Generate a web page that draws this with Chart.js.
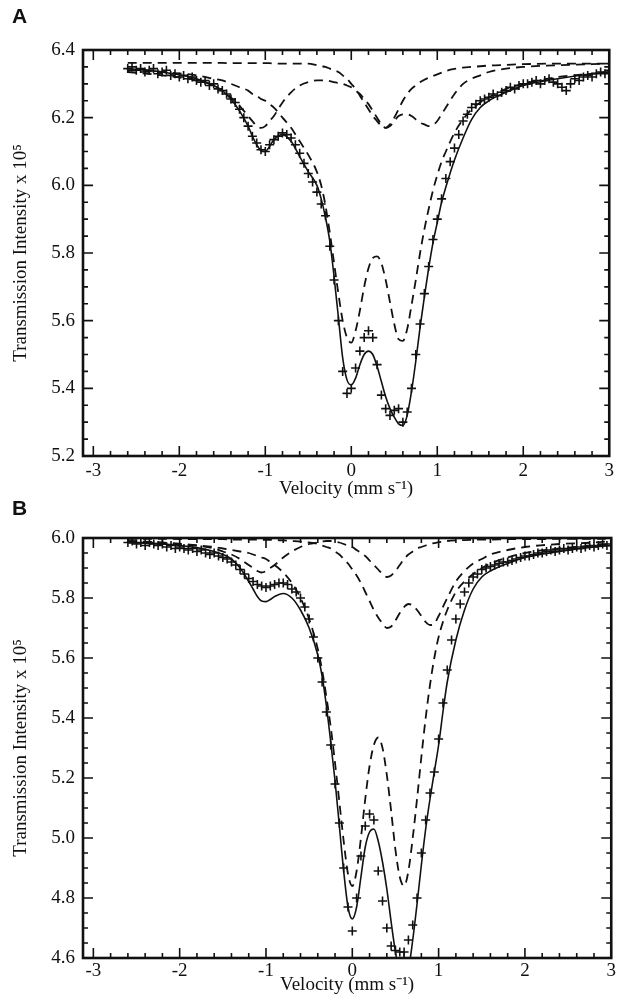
<!DOCTYPE html>
<html>
<head>
<meta charset="utf-8">
<script src="https://cdn.jsdelivr.net/npm/chart.js@4.4.1/dist/chart.umd.min.js"></script>
<style>
  body { margin: 0; background: #fff; width: 618px; height: 996px; position: relative; overflow: hidden; }
  canvas { position: absolute; left: 0; }
  .panel { position: absolute; left: 12px; font: bold 21px "Liberation Sans", Arial, sans-serif; color: #111; z-index: 2; }
</style>
</head>
<body>
<canvas id="chartA" width="618" height="500" style="top:0"></canvas>
<canvas id="chartB" width="618" height="496" style="top:500px"></canvas>
<div class="panel" style="top:4px">A</div>
<div class="panel" style="top:496px">B</div>

<script>
// ── Data ────────────────────────────────────

// measured channels (mm/s)
const velocity = [
  -2.60, -2.55, -2.50, -2.45, -2.40, -2.35, -2.30, -2.25, -2.20, -2.15, -2.10, -2.05, -2.00,
  -1.95, -1.90, -1.85, -1.80, -1.75, -1.70, -1.65, -1.60, -1.55, -1.50,
  -1.45, -1.40, -1.35, -1.30, -1.25, -1.20, -1.15, -1.10, -1.05, -1.00,
  -0.95, -0.90, -0.85, -0.80, -0.75, -0.70, -0.65, -0.60, -0.55, -0.50,
  -0.45, -0.40, -0.35, -0.30, -0.25, -0.20, -0.15, -0.10, -0.05, 0.00,
  0.05, 0.10, 0.15, 0.20, 0.25, 0.30, 0.35, 0.40, 0.45, 0.50,
  0.55, 0.60, 0.65, 0.70, 0.75, 0.80, 0.85, 0.90, 0.95, 1.00,
  1.05, 1.10, 1.15, 1.20, 1.25, 1.30, 1.35, 1.40, 1.45, 1.50,
  1.55, 1.60, 1.65, 1.70, 1.75, 1.80, 1.85, 1.90, 1.95, 2.00,
  2.05, 2.10, 2.15, 2.20, 2.25, 2.30, 2.35, 2.40, 2.45, 2.50,
  2.55, 2.60, 2.65, 2.70, 2.75, 2.80, 2.85, 2.90, 2.95, 3.00
];

const pointsA = [
  6.345, 6.35, 6.34, 6.345, 6.335, 6.34, 6.345, 6.33, 6.335, 6.34, 6.325, 6.33, 6.32,
  6.325, 6.315, 6.32, 6.31, 6.305, 6.31, 6.295, 6.30, 6.285, 6.28,
  6.27, 6.255, 6.245, 6.225, 6.20, 6.175, 6.145, 6.125, 6.105, 6.10,
  6.12, 6.135, 6.145, 6.155, 6.15, 6.14, 6.12, 6.095, 6.065, 6.035,
  6.01, 5.98, 5.945, 5.91, 5.82, 5.72, 5.60, 5.45, 5.385, 5.40,
  5.46, 5.51, 5.55, 5.57, 5.55, 5.47, 5.38, 5.34, 5.32, 5.335,
  5.34, 5.30, 5.33, 5.40, 5.50, 5.59, 5.68, 5.76, 5.84, 5.90,
  5.96, 6.02, 6.07, 6.11, 6.15, 6.19, 6.21, 6.23, 6.24, 6.25,
  6.255, 6.26, 6.27, 6.265, 6.275, 6.28, 6.29, 6.285, 6.295, 6.30,
  6.30, 6.305, 6.31, 6.30, 6.31, 6.315, 6.305, 6.30, 6.29, 6.28,
  6.30, 6.315, 6.31, 6.32, 6.325, 6.32, 6.33, 6.335, 6.33, 6.34
];

const pointsB = [
  5.985, 5.99, 5.98, 5.985, 5.975, 5.985, 5.98, 5.975, 5.98, 5.97, 5.975, 5.965, 5.97,
  5.965, 5.96, 5.965, 5.955, 5.96, 5.95, 5.945, 5.95, 5.94, 5.935,
  5.93, 5.92, 5.91, 5.895, 5.88, 5.865, 5.855, 5.845, 5.84, 5.835,
  5.84, 5.845, 5.85, 5.85, 5.845, 5.83, 5.82, 5.80, 5.77, 5.73,
  5.67, 5.60, 5.52, 5.42, 5.31, 5.18, 5.05, 4.90, 4.77, 4.69,
  4.80, 4.94, 5.04, 5.08, 5.06, 4.89, 4.79, 4.70, 4.64, 4.625,
  4.62, 4.62, 4.66, 4.71, 4.80, 4.95, 5.06, 5.15, 5.22, 5.33,
  5.45, 5.56, 5.66, 5.73, 5.78, 5.82, 5.85, 5.87, 5.88, 5.895,
  5.90, 5.905, 5.91, 5.915, 5.92, 5.92, 5.925, 5.93, 5.935, 5.94,
  5.94, 5.945, 5.95, 5.95, 5.955, 5.96, 5.955, 5.96, 5.965, 5.96,
  5.965, 5.97, 5.965, 5.97, 5.975, 5.97, 5.975, 5.98, 5.975, 5.98
];

// velocities where the fitted curves were read
const curveVel = [
  -2.6, -2.2, -1.8, -1.6, -1.5, -1.4, -1.3, -1.2, -1.15, -1.1,
  -1.05, -1.0, -0.95, -0.9, -0.8, -0.7, -0.6, -0.5, -0.4, -0.35,
  -0.3, -0.25, -0.2, -0.15, -0.1, -0.05, 0.0, 0.05, 0.1, 0.15,
  0.2, 0.25, 0.3, 0.35, 0.4, 0.45, 0.5, 0.55, 0.6, 0.65,
  0.7, 0.75, 0.8, 0.85, 0.9, 0.95, 1.0, 1.05, 1.1, 1.2,
  1.3, 1.4, 1.5, 1.6, 1.8, 2.0, 2.4, 2.8, 3.0
];

const fitA = [
  6.345, 6.335, 6.315, 6.295, 6.28, 6.255, 6.22, 6.175, 6.145, 6.12,
  6.103, 6.10, 6.115, 6.135, 6.15, 6.13, 6.085, 6.04, 6.0, 5.96,
  5.905, 5.835, 5.73, 5.61, 5.49, 5.425, 5.41, 5.43, 5.47, 5.50,
  5.51, 5.50, 5.465, 5.42, 5.375, 5.34, 5.315, 5.295, 5.29, 5.32,
  5.39, 5.48, 5.58, 5.67, 5.755, 5.83, 5.89, 5.95, 5.995, 6.075,
  6.14, 6.195, 6.23, 6.25, 6.275, 6.295, 6.315, 6.33, 6.335
];

const mainA = [
  6.34, 6.335, 6.325, 6.315, 6.31, 6.30, 6.29, 6.28, 6.27, 6.265,
  6.255, 6.25, 6.24, 6.23, 6.20, 6.17, 6.13, 6.09, 6.04, 6.0,
  5.94, 5.86, 5.77, 5.68, 5.60, 5.55, 5.535, 5.57, 5.63, 5.70,
  5.755, 5.785, 5.79, 5.77, 5.72, 5.655, 5.59, 5.545, 5.54, 5.575,
  5.645, 5.72, 5.80, 5.87, 5.93, 5.985, 6.03, 6.07, 6.10, 6.155,
  6.195, 6.225, 6.245, 6.26, 6.285, 6.30, 6.32, 6.33, 6.335
];

const outerA = [
  6.335, 6.325, 6.31, 6.295, 6.28, 6.26, 6.235, 6.205, 6.19, 6.175,
  6.17, 6.175, 6.19, 6.205, 6.245, 6.275, 6.295, 6.305, 6.31, 6.31,
  6.31, 6.308, 6.305, 6.302, 6.30, 6.295, 6.29, 6.28, 6.27, 6.255,
  6.24, 6.22, 6.20, 6.18, 6.17, 6.18, 6.20, 6.225, 6.25, 6.27,
  6.285, 6.295, 6.305, 6.312, 6.318, 6.323, 6.328, 6.333, 6.338, 6.344,
  6.348, 6.35, 6.352, 6.354, 6.356, 6.358, 6.36, 6.36, 6.36
];

const innerA = [
  6.362, 6.362, 6.362, 6.362, 6.362, 6.361, 6.361, 6.361, 6.361, 6.361,
  6.361, 6.361, 6.361, 6.36, 6.36, 6.36, 6.36, 6.36, 6.355, 6.352,
  6.35, 6.345, 6.34, 6.335, 6.325, 6.315, 6.30, 6.285, 6.265, 6.245,
  6.225, 6.205, 6.19, 6.175, 6.17, 6.175, 6.19, 6.205, 6.21, 6.21,
  6.205, 6.195, 6.185, 6.18, 6.175, 6.178, 6.19, 6.21, 6.23, 6.27,
  6.30, 6.315, 6.325, 6.335, 6.345, 6.35, 6.355, 6.358, 6.36
];

const fitB = [
  5.985, 5.98, 5.968, 5.955, 5.945, 5.93, 5.90, 5.855, 5.83, 5.805,
  5.79, 5.788, 5.795, 5.805, 5.815, 5.80, 5.76, 5.70, 5.61, 5.54,
  5.44, 5.32, 5.19, 5.04, 4.89, 4.77, 4.73, 4.77, 4.87, 4.97,
  5.02, 5.03, 4.99, 4.92, 4.83, 4.72, 4.62, 4.55, 4.52, 4.56,
  4.66, 4.78, 4.91, 5.03, 5.13, 5.22, 5.31, 5.42, 5.52, 5.66,
  5.76, 5.83, 5.87, 5.89, 5.915, 5.935, 5.955, 5.97, 5.975
];

const mainB = [
  5.985, 5.98, 5.975, 5.97, 5.965, 5.96, 5.955, 5.95, 5.945, 5.94,
  5.935, 5.93, 5.92, 5.91, 5.885, 5.85, 5.80, 5.73, 5.63, 5.56,
  5.47, 5.37, 5.25, 5.12, 4.99, 4.88, 4.84, 4.89, 5.0, 5.13,
  5.24, 5.31, 5.335, 5.30, 5.21, 5.09, 4.96, 4.87, 4.84, 4.89,
  5.0, 5.13, 5.27, 5.40, 5.51, 5.60, 5.67, 5.72, 5.76, 5.82,
  5.855, 5.88, 5.90, 5.915, 5.935, 5.95, 5.965, 5.975, 5.98
];

const outerB = [
  5.99, 5.985, 5.975, 5.965, 5.955, 5.945, 5.93, 5.91, 5.90, 5.89,
  5.885, 5.89, 5.90, 5.91, 5.935, 5.955, 5.97, 5.98, 5.985, 5.988,
  5.99, 5.99, 5.988, 5.985, 5.98, 5.975, 5.97, 5.96, 5.95, 5.94,
  5.925, 5.91, 5.895, 5.88, 5.87, 5.875, 5.89, 5.91, 5.93, 5.945,
  5.955, 5.965, 5.97, 5.975, 5.98, 5.983, 5.986, 5.988, 5.99, 5.992,
  5.993, 5.994, 5.995, 5.995, 5.996, 5.996, 5.997, 5.997, 5.998
];

const innerB = [
  5.997, 5.997, 5.996, 5.996, 5.996, 5.995, 5.995, 5.995, 5.995, 5.995,
  5.994, 5.994, 5.994, 5.993, 5.992, 5.99, 5.988, 5.985, 5.98, 5.975,
  5.97, 5.965, 5.955, 5.945, 5.93, 5.915, 5.895, 5.875, 5.85, 5.82,
  5.79, 5.76, 5.735, 5.715, 5.70, 5.705, 5.725, 5.75, 5.77, 5.78,
  5.775, 5.76, 5.74, 5.72, 5.71, 5.715, 5.74, 5.77, 5.80, 5.855,
  5.89, 5.915, 5.93, 5.945, 5.96, 5.97, 5.98, 5.985, 5.99
];

// tick labels
const xTicks = [-3, -2, -1, 0, 1, 2, 3];
const yTicksA = [5.2, 5.4, 5.6, 5.8, 6.0, 6.2, 6.4];
const yTicksB = [4.6, 4.8, 5.0, 5.2, 5.4, 5.6, 5.8, 6.0];

// ── Helpers ─────────────────────────────────

const INK = '#111';
const SERIF = '"Liberation Serif", "Times New Roman", serif';

function pairs(xs, ys) {
    return xs.map((x, i) => ({ x: x, y: ys[i] }));
}

function steps(from, to, step) {
    const out = [];
    const n = Math.round((to - from) / step);
    for (let i = 0; i <= n; i++) out.push(+(from + i * step).toFixed(3));
    return out;
}

// inward ticks on all four sides plus the heavy frame
const frameTicks = {
    id: 'frameTicks',
    afterDraw(chart, args, opts) {
        const { ctx, chartArea: a, scales: { x, y } } = chart;
        const isMajor = (v, step) => Math.abs(v / step - Math.round(v / step)) < 1e-6;
        ctx.save();
        ctx.strokeStyle = INK;
        ctx.lineWidth = 1.6;
        ctx.beginPath();
        steps(-3, 3, 0.2).forEach(v => {
            const px = x.getPixelForValue(v);
            const len = isMajor(v, 1) ? 10 : 5;
            ctx.moveTo(px, a.bottom); ctx.lineTo(px, a.bottom - len);
            ctx.moveTo(px, a.top); ctx.lineTo(px, a.top + len);
        });
        steps(opts.yMin, opts.yMax, 0.05).forEach(v => {
            const py = y.getPixelForValue(v);
            const len = isMajor(v, 0.2) ? 10 : 5;
            ctx.moveTo(a.left, py); ctx.lineTo(a.left + len, py);
            ctx.moveTo(a.right, py); ctx.lineTo(a.right - len, py);
        });
        ctx.stroke();
        ctx.lineWidth = 2.6;
        ctx.strokeRect(a.left, a.top, a.width, a.height);
        ctx.restore();
    }
};

// ── Spectrum Chart ──────────────────────────

function initSpectrum(id, cfg) {
    const dashed = { borderColor: INK, borderWidth: 1.8, borderDash: [9, 6], pointRadius: 0, showLine: true, cubicInterpolationMode: 'monotone' };

    new Chart(document.getElementById(id), {
        type: 'scatter',
        data: {
            datasets: [
                { label: 'Data', data: pairs(velocity, cfg.points), pointStyle: 'cross', pointRadius: 4.5, borderColor: INK, borderWidth: 1.6 },
                { label: 'Fit', data: pairs(curveVel, cfg.fit), showLine: true, pointRadius: 0, borderColor: INK, borderWidth: 1.6, cubicInterpolationMode: 'monotone' },
                Object.assign({ label: 'Doublet 1', data: pairs(curveVel, cfg.main) }, dashed),
                Object.assign({ label: 'Doublet 2', data: pairs(curveVel, cfg.outer) }, dashed),
                Object.assign({ label: 'Doublet 3', data: pairs(curveVel, cfg.inner) }, dashed)
            ]
        },
        options: {
            responsive: false,
            animation: false,
            devicePixelRatio: 1,
            layout: { padding: { top: cfg.top, right: 5, left: 0, bottom: 0 } },
            scales: {
                x: {
                    min: -3.12, max: 3.0,
                    grid: { display: false, drawTicks: false },
                    border: { display: false },
                    afterBuildTicks: s => { s.ticks = xTicks.map(v => ({ value: v })); },
                    afterFit: s => { s.height = cfg.axisH; },
                    ticks: { color: INK, padding: cfg.tickPad, maxRotation: 0, font: { family: SERIF, size: 19 }, callback: v => String(v) },
                    title: { display: true, text: 'Velocity (mm s\u207B\u00B9)', color: INK, padding: { top: 0, bottom: 0 }, font: { family: SERIF, size: 19 } }
                },
                y: {
                    min: cfg.yMin, max: cfg.yMax,
                    grid: { display: false, drawTicks: false },
                    border: { display: false },
                    afterBuildTicks: s => { s.ticks = cfg.yTicks.map(v => ({ value: v })); },
                    afterFit: s => { s.width = 83; },
                    ticks: { color: INK, padding: 8, font: { family: SERIF, size: 19 }, callback: v => v.toFixed(1) },
                    title: { display: true, text: 'Transmission Intensity x 10\u2075', color: INK, padding: { top: 10, bottom: 0 }, font: { family: SERIF, size: 19 } }
                }
            },
            plugins: {
                legend: { display: false },
                tooltip: { enabled: false },
                frameTicks: { yMin: cfg.yMin, yMax: cfg.yMax }
            }
        },
        plugins: [frameTicks]
    });
}

initSpectrum('chartA', { top: 50, axisH: 44, tickPad: 4, yMin: 5.2, yMax: 6.4, yTicks: yTicksA, points: pointsA, fit: fitA, main: mainA, outer: outerA, inner: innerA });
initSpectrum('chartB', { top: 38, axisH: 38, tickPad: 2, yMin: 4.6, yMax: 6.0, yTicks: yTicksB, points: pointsB, fit: fitB, main: mainB, outer: outerB, inner: innerB });
</script>
</body>
</html>
